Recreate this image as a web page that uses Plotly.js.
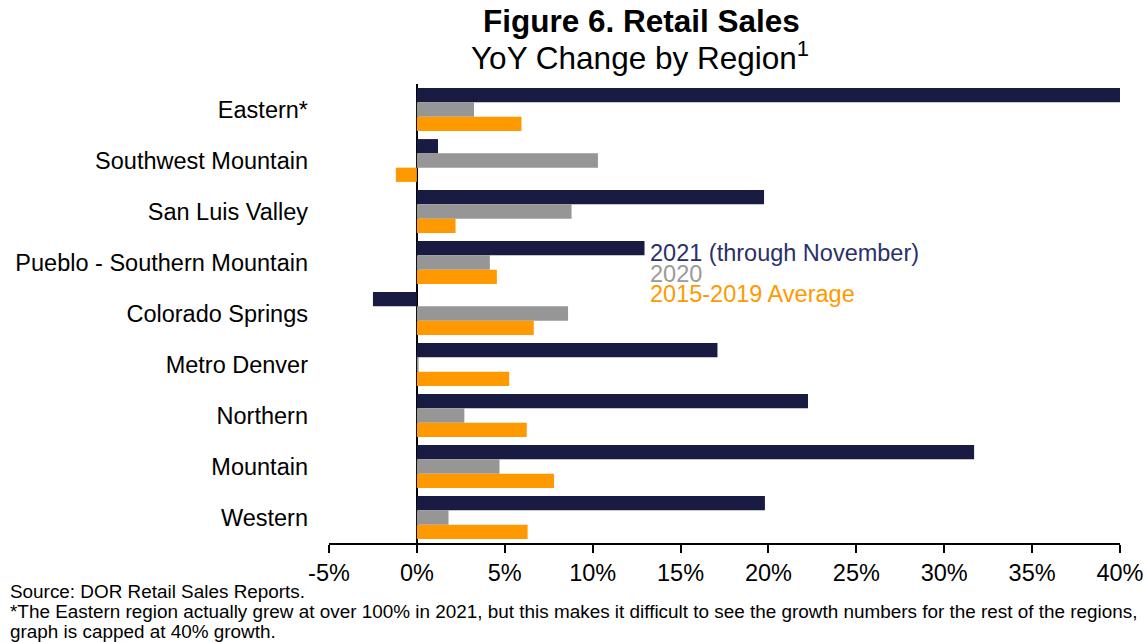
<!DOCTYPE html>
<html><head><meta charset="utf-8">
<script src="https://cdn.plot.ly/plotly-3.0.1.min.js"></script>
<style>html,body{margin:0;padding:0;background:#fff;overflow:hidden;}#chart{width:1145px;height:642px;}</style>
</head><body><div id="chart"></div>
<script>
const regions = ["Eastern*","Southwest Mountain","San Luis Valley","Pueblo - Southern Mountain","Colorado Springs","Metro Denver","Northern","Mountain","Western"];
const y2021 = [40.0, 1.2, 19.75, 12.95, -2.5, 17.1, 22.25, 31.7, 19.8];
const y2020 = [3.25, 10.3, 8.8, 4.15, 8.6, 0.1, 2.7, 4.7, 1.8];
const yAvg = [5.95, -1.2, 2.2, 4.55, 6.65, 5.25, 6.25, 7.8, 6.3];
const seriesNames = ["2021 (through November)","2020","2015-2019 Average"];
const xTicks = [-5,0,5,10,15,20,25,30,35,40];
const xTickText = xTicks.map(v => v + "%");
const footLines = [
  "Source: DOR Retail Sales Reports.",
  "*The Eastern region actually grew at over 100% in 2021, but this makes it difficult to see the growth numbers for the rest of the regions,",
  "graph is capped at 40% growth."
];

const barColors = ["#1a1b42","#969696","#ff9900"];
const legendColors = ["#2b2f6b","#9a9a9a","#ff9900"];
const vals = [y2021, y2020, yAvg];

const traces = vals.map((v,i) => ({
  type: "bar", orientation: "h", x: v, y: regions, name: seriesNames[i],
  marker: {color: barColors[i], line: {width: 0}}, hoverinfo: "x+y"
}));

const FONT = "Liberation Sans, Arial, sans-serif";
const W = 1145, L = 329, R = 25, T = 84, B = 99;
const pw = W - L - R, ph = 642 - T - B;
const px = X => (X - L) / pw;
const py = Y => (T + ph - Y) / ph;

const annotations = [
  {text: "<b>Figure 6. Retail Sales</b>", x: px(641), y: py(21), xref: "paper", yref: "paper", showarrow: false, xanchor: "center", yanchor: "middle", font: {family: FONT, size: 31.5, color: "#000"}},
  {text: "YoY Change by Region<sup>1</sup>", x: px(640), y: py(56), xref: "paper", yref: "paper", showarrow: false, xanchor: "center", yanchor: "middle", font: {family: FONT, size: 31.5, color: "#000"}},
];
seriesNames.forEach((n,i) => annotations.push({
  text: n, x: px(648), y: py(253 + i*20.5), xref: "paper", yref: "paper", showarrow: false,
  xanchor: "left", yanchor: "middle", font: {family: FONT, size: 23.5, color: legendColors[i]}
}));
footLines.forEach((t,i) => annotations.push({
  text: t, x: px(8), y: py(591 + i*20), xref: "paper", yref: "paper", showarrow: false,
  xanchor: "left", yanchor: "middle", align: "left",
  font: {family: FONT, size: 18.9, color: "#000"}
}));

const layout = {
  width: W, height: 642, margin: {l: L, r: R, t: T, b: B, pad: 0},
  paper_bgcolor: "#fff", plot_bgcolor: "#fff",
  barmode: "group", bargap: 0.16, bargroupgap: 0,
  showlegend: false,
  xaxis: {range: [-5, 40], tickvals: xTicks, ticktext: xTickText, showgrid: false,
    zeroline: true, zerolinecolor: "#000", zerolinewidth: 2,
    showline: true, linecolor: "#000", linewidth: 2, ticks: "outside", ticklen: 8, tickwidth: 2, tickcolor: "#000",
    tickfont: {family: FONT, size: 23.5, color: "#000"}, fixedrange: true},
  yaxis: {autorange: "reversed", showgrid: false, zeroline: false, showline: false, ticks: "",
    ticklabelstandoff: 20, tickfont: {family: FONT, size: 23.5, color: "#000"}, fixedrange: true},
  annotations: annotations
};
Plotly.newPlot("chart", traces, layout, {displayModeBar: false, staticPlot: true});
</script></body></html>
